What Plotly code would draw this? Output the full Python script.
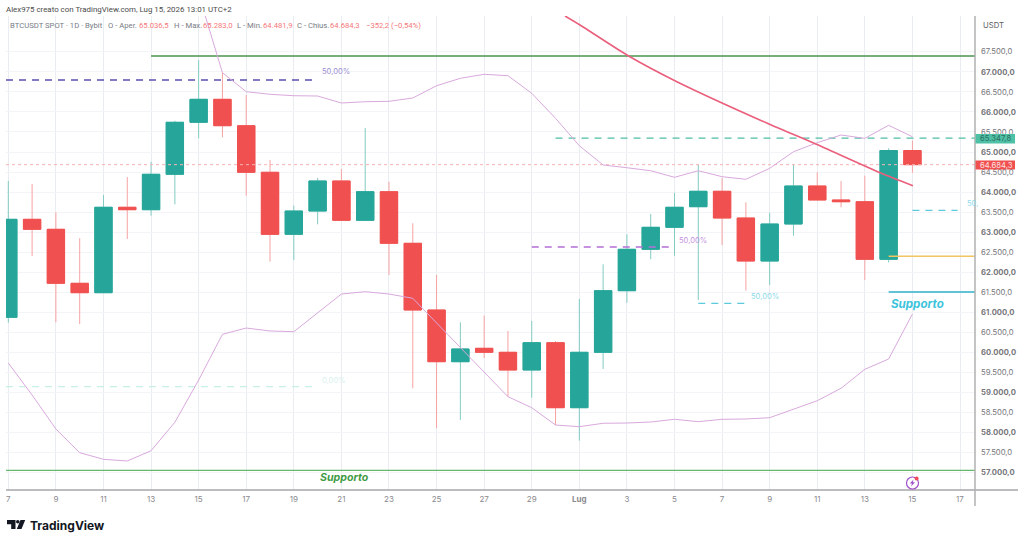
import plotly.graph_objects as go

WIDTH, HEIGHT = 1024, 543
LEFT, RIGHT, TOP, BOTTOM = 6, 975, 16, 490

# Daily BTCUSDT candles, 7 June to 15 July
opens = [60877, 63321, 63072, 61725, 61491, 63621, 63561, 64444, 65741, 66314, 65656, 64494, 62947,
         63528, 64277, 63296, 64010, 62723, 61059, 59770, 60104, 60004, 59563, 60244, 58623, 60004,
         61541, 62573, 63122, 63636, 64020, 63354, 62281, 63204, 64152, 63803, 63760, 62324, 65036.5]
highs = [64277, 64202, 63496, 62848, 63927, 64376, 64758, 65780, 67294, 66978, 66421, 64800, 63661,
         64351, 64576, 65598, 64259, 63222, 61932, 60753, 60917, 60536, 60785, 60286, 61334, 62199,
         62947, 63454, 63985, 64683, 64351, 63745, 63486, 64683, 64494, 64277, 64409, 65092, 65283]
lows = [60743, 62406, 60753, 60710, 61491, 62830, 63411, 63695, 65341, 65366, 63910, 62264, 62306,
        63197, 63296, 63296, 61932, 59107, 58109, 58316, 59862, 58897, 58872, 58191, 57800, 59588,
        61241, 62324, 62413, 61309, 62680, 61541, 61683, 62912, 63803, 63621, 61808, 62249, 64481.9]
closes = [63321, 63072, 61725, 61491, 63621, 63561, 64444, 65741, 66314, 65656, 64494, 62947, 63528,
          64277, 63296, 64010, 62723, 61059, 59770, 60087, 60004, 59563, 60244, 58623, 60004, 61541,
          62573, 63122, 63621, 64020, 63354, 62281, 63204, 64152, 63803, 63760, 62324, 65036.5, 64684.3]

# Bollinger envelopes
upper_days = list(range(8, 39))
upper_band = [68940, 66978, 66504, 66439, 66404, 66396, 66222, 66254, 66264, 66347, 66653, 66838, 66938,
              66903, 66464, 65840, 65157, 64676, 64608, 64533, 64369, 64533, 64384, 64319, 64593, 65007,
              65232, 65424, 65341, 65666, 65381]
lower_band = [59737, 58939, 58091, 57500, 57336, 57293, 57550, 58259, 59313, 60453, 60610, 60536, 60518,
              60977, 61458, 61516, 61458, 61351, 60735, 60137, 59496, 58897, 58623, 58191, 58149, 58234,
              58241, 58266, 58333, 58274, 58333, 58341, 58373, 58583, 58797, 59107, 59580, 59837, 60959]

# Descending trendline
trend_days = [23.4, 24.03, 26.0, 28.1, 31.9, 33.87, 36.67, 38.02]
trend_prices = [68392, 68167, 67419, 66753, 65716, 65217, 64476, 64159]

# Horizontal levels: (first day, last day, price, colour, width, dash)
END = 40.63
START = -0.097
levels = [
    (6, END, 67394, "#4b9350", 1.5, "solid"),
    (START, 12.93, 66796, "#5a4fb0", 1.5, "7px,6px"),
    (START, 12.93, 59146, "#c6efe6", 1.2, "7px,6px"),
    (22, 27.8, 62630, "#b46fd6", 1.5, "7px,6px"),
    (29, 31, 61226, "#5cc9dc", 1.3, "7px,6px"),
    (38, 39.9, 63546, "#5cc9dc", 1.3, "7px,6px"),
    (23, END, 65347.8, "#4ec0a5", 1.3, "7px,6px"),
    (37, END, 62399, "#f2c462", 1.5, "solid"),
    (37, END, 61508, "#62c3d6", 2, "solid"),
    (START, END, 57061, "#66b96a", 1.3, "solid"),
    (START, END, 64684.3, "#f6b3b3", 1, "dot"),
]

# Fibonacci and support captions: (day, price, text, colour, size, style)
captions = [
    (13.1, 67003, "50,00%", "#9c92d4", 7.6, "normal", "normal"),
    (13.1, 59300, "0,00%", "#d9f1ee", 7.6, "normal", "normal"),
    (28.1, 62800, "50,00%", "#c795e2", 7.6, "normal", "normal"),
    (31.12, 61395, "50,00%", "#8fdcea", 7.6, "normal", "normal"),
    (40.2, 63715, "50,", "#8fdcea", 7.6, "normal", "normal"),
    (37.02, 61200, "Supporto", "#3cc3dc", 11.6, "bold", "italic"),
    (13.03, 56880, "Supporto", "#3f9b45", 10.6, "bold", "italic"),
]

# Axis ticks
day_ticks = list(range(0, 41, 2))
day_labels = ["7", "9", "11", "13", "15", "17", "19", "21", "23", "25", "27", "29", "<b>Lug</b>",
              "3", "5", "7", "9", "11", "13", "15", "17"]
price_ticks = list(range(57000, 68000, 500))


def price_label(value):
    text = f"{value:,.1f}".replace(",", "#").replace(".", ",").replace("#", ".")
    return f"<b>{text}</b>" if value % 1000 == 0 else text


def fx(px):
    return (px - LEFT) / (RIGHT - LEFT)


def fy(py):
    return (BOTTOM - py) / (BOTTOM - TOP)


UP, DOWN = "#26a69a", "#f0504f"
UP_WICK, DOWN_WICK = "#83cbc3", "#f6a3a3"
days = list(range(len(opens)))

fig = go.Figure()

for first, last, price, colour, width, dash in levels:
    fig.add_trace(go.Scatter(x=[first, last], y=[price, price], mode="lines",
                             line=dict(color=colour, width=width, dash=dash), hoverinfo="skip"))

fig.add_trace(go.Scatter(x=upper_days, y=upper_band, mode="lines",
                         line=dict(color="#d9a9dd", width=1), hoverinfo="skip"))
fig.add_trace(go.Scatter(x=days, y=lower_band, mode="lines",
                         line=dict(color="#d9a9dd", width=1), hoverinfo="skip"))

# Wicks first, in their paler tints, then flat-ended bodies on top
fig.add_trace(go.Candlestick(
    x=days, open=opens, high=highs, low=lows, close=closes, whiskerwidth=0,
    increasing=dict(line=dict(color=UP_WICK, width=1), fillcolor=UP),
    decreasing=dict(line=dict(color=DOWN_WICK, width=1), fillcolor=DOWN)))
fig.add_trace(go.Candlestick(
    x=days, open=opens, close=closes,
    high=[max(o, c) for o, c in zip(opens, closes)],
    low=[min(o, c) for o, c in zip(opens, closes)],
    whiskerwidth=0,
    increasing=dict(line=dict(color=UP, width=1), fillcolor=UP),
    decreasing=dict(line=dict(color=DOWN, width=1), fillcolor=DOWN)))

fig.add_trace(go.Scatter(x=trend_days, y=trend_prices, mode="lines",
                         line=dict(color="#ea5f7c", width=1.6, shape="spline", smoothing=0.6),
                         hoverinfo="skip"))

shapes = [
    # price and time scale borders
    dict(type="line", xref="paper", yref="paper", x0=fx(LEFT), x1=fx(1018), y0=fy(490), y1=fy(490),
         line=dict(color="#a6a6a8", width=1.3)),
    dict(type="line", xref="paper", yref="paper", x0=fx(975), x1=fx(975), y0=fy(16), y1=fy(506),
         line=dict(color="#b0b0b2", width=1.5)),
    # last-price tags
    dict(type="rect", xref="paper", yref="paper", x0=fx(975.5), x1=fx(1015), y0=fy(134), y1=fy(143.5),
         fillcolor="#4ec0a5", line_width=0),
    dict(type="rect", xref="paper", yref="paper", x0=fx(975.5), x1=fx(1015), y0=fy(160.5), y1=fy(169.5),
         fillcolor="#f0504f", line_width=0),
    # notification badge
    dict(type="circle", xref="paper", yref="paper", x0=fx(906.5), x1=fx(918.5), y0=fy(477), y1=fy(489),
         line=dict(color="#a04fc8", width=1.2), fillcolor="white"),
    dict(type="path", xref="paper", yref="paper", fillcolor="#a04fc8", line_width=0,
         path=f"M {fx(913.5)} {fy(479.5)} L {fx(909.8)} {fy(483.6)} L {fx(912)} {fy(483.6)} "
              f"L {fx(911)} {fy(486.5)} L {fx(915)} {fy(482.3)} L {fx(912.8)} {fy(482.3)} Z"),
    dict(type="circle", xref="paper", yref="paper", x0=fx(914.6), x1=fx(918.6), y0=fy(476.4), y1=fy(480.4),
         line_width=0, fillcolor="#ef4b5a"),
    # TradingView mark
    dict(type="path", xref="paper", yref="paper", fillcolor="#131722", line_width=0,
         path=f"M {fx(7)} {fy(520)} L {fx(15.5)} {fy(520)} L {fx(15.5)} {fy(529)} L {fx(11.2)} {fy(529)} "
              f"L {fx(11.2)} {fy(524.2)} L {fx(7)} {fy(524.2)} Z"),
    dict(type="circle", xref="paper", yref="paper", x0=fx(16), x1=fx(19.6), y0=fy(520), y1=fy(523.6),
         line_width=0, fillcolor="#131722"),
    dict(type="path", xref="paper", yref="paper", fillcolor="#131722", line_width=0,
         path=f"M {fx(20.5)} {fy(520)} L {fx(25.2)} {fy(520)} L {fx(21.5)} {fy(529)} L {fx(16.8)} {fy(529)} Z"),
]

FONT = "Inter, 'Open Sans', sans-serif"
HEADER = "Roboto, sans-serif"


def label(px, py, text, colour, size, family=FONT):
    return dict(xref="paper", yref="paper", x=fx(px), y=fy(py), text=text, showarrow=False,
                xanchor="left", yanchor="middle", borderpad=0, borderwidth=0,
                font=dict(family=family, size=size, color=colour))


annotations = []
for day, price, text, colour, size, weight, style in captions:
    annotations.append(dict(x=day, y=price, xref="x", yref="y", text=f"<b>{text}</b>" if weight == "bold" else text,
                            showarrow=False, xanchor="left", yanchor="middle",
                            font=dict(family=FONT, size=size, color=colour, style=style)))

annotations += [
    label(5.5, 9.5, "Alex975 creato con TradingView.com, Lug 15, 2026 13:01 UTC+2", "#4a4a4a", 7.9, HEADER),
    label(10, 25.5, "BTCUSDT SPOT · 1D · Bybit", "#777b84", 7.7, HEADER),
    label(108, 25.5, "O - Aper.", "#777b84", 7.7, HEADER),
    label(138.5, 25.5, "65.036,5", "#f4787a", 7.7, HEADER),
    label(173.5, 25.5, "H - Max.", "#777b84", 7.7, HEADER),
    label(202.5, 25.5, "65.283,0", "#f4787a", 7.7, HEADER),
    label(236.5, 25.5, "L - Min.", "#777b84", 7.7, HEADER),
    label(262.5, 25.5, "64.481,9", "#f4787a", 7.7, HEADER),
    label(296.5, 25.5, "C - Chius.", "#777b84", 7.7, HEADER),
    label(330, 25.5, "64.684,3", "#f4787a", 7.7, HEADER),
    label(365.5, 25.5, "−352,2 (−0,54%)", "#f4787a", 7.7, HEADER),
    label(982.5, 26, "USDT", "#5c5c60", 7.7),
    label(980, 138.8, "65.347,8", "#2c6e5e", 7.7),
    label(980, 165, "64.684,3", "#fde3e3", 7.7),
    label(29.5, 525, "<b>TradingView</b>", "#131722", 12),
]

fig.update_layout(
    width=WIDTH, height=HEIGHT, autosize=False, showlegend=False,
    paper_bgcolor="white", plot_bgcolor="white",
    margin=dict(l=LEFT, r=WIDTH - RIGHT, t=TOP, b=HEIGHT - BOTTOM, pad=0),
    font=dict(family=FONT),
    boxgap=0.27, boxgroupgap=0, boxmode="overlay",
    shapes=shapes, annotations=annotations,
    xaxis=dict(range=[START, END], rangeslider=dict(visible=False), tickmode="array", automargin=False,
               tickvals=day_ticks, ticktext=day_labels, showgrid=True, gridcolor="#e9ecf1", gridwidth=1,
               zeroline=False, showline=False, ticks="", ticklabelstandoff=3,
               tickfont=dict(family=FONT, size=8, color="#8a8a8e")),
    yaxis=dict(range=[56570, 68392], side="right", tickmode="array", tickvals=price_ticks, automargin=False,
               ticktext=[price_label(p) for p in price_ticks], showgrid=True, gridcolor="#f3f4f7",
               gridwidth=1, zeroline=False, showline=False, ticks="", ticklabelstandoff=5,
               tickfont=dict(family=FONT, size=7.7, color="#77777c")),
    hovermode=False,
)

fig.write_html("out.html", config=dict(displayModeBar=False))
